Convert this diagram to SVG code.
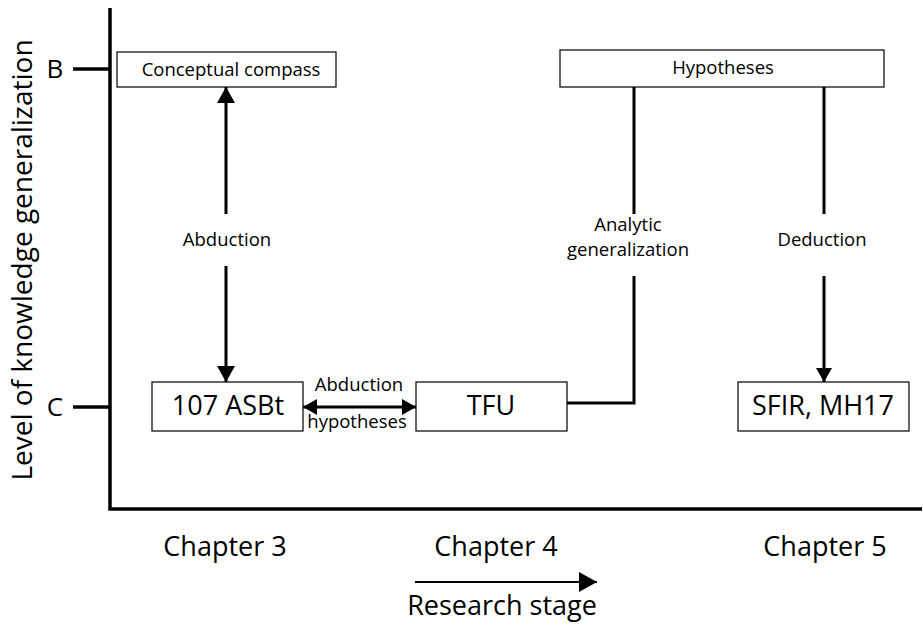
<svg xmlns="http://www.w3.org/2000/svg" width="923" height="627" viewBox="0 0 923 627">
  <defs>
    <marker id="arrow" viewBox="0 0 16 18" refX="16" refY="9" markerWidth="16" markerHeight="18" orient="auto-start-reverse" markerUnits="userSpaceOnUse">
      <path d="M0,0 L16,9 L0,18 z" fill="#000"/>
    </marker>
    <marker id="arrowSmall" viewBox="0 0 14 16" refX="14" refY="8" markerWidth="14" markerHeight="16" orient="auto-start-reverse" markerUnits="userSpaceOnUse">
      <path d="M0,0 L14,8 L0,16 z" fill="#000"/>
    </marker>
    <marker id="arrowStage" viewBox="0 0 18 20" refX="18" refY="10" markerWidth="18" markerHeight="20" orient="auto" markerUnits="userSpaceOnUse">
      <path d="M0,0 L18,10 L0,20 z" fill="#000"/>
    </marker>
  </defs>
  <style>
    text { font-family: "Open Sans", "Liberation Sans", sans-serif; fill: #000; }
    .box { fill: #fff; stroke: #000; stroke-width: 1.2; }
    .axis { stroke: #000; stroke-width: 3.5; fill: none; }
    .link { stroke: #000; stroke-width: 3; fill: none; }
    .small { font-size: 18.5px; text-anchor: middle; }
    .big { font-size: 27px; text-anchor: middle; }
    .lbl { font-size: 18.5px; text-anchor: middle; }
    .chap { font-size: 27px; text-anchor: middle; }
  </style>

  <rect width="923" height="627" fill="#fff"/>

  <!-- Axes -->
  <g id="axes">
    <path class="axis" d="M110,8 V509 H922"/>
    <line class="axis" x1="73" y1="69" x2="110" y2="69"/>
    <line class="axis" x1="73" y1="407" x2="110" y2="407"/>
    <text x="55" y="78" font-size="26" text-anchor="middle">B</text>
    <text x="55" y="416" font-size="26" text-anchor="middle">C</text>
    <text transform="translate(32,260) rotate(-90)" font-size="28" text-anchor="middle">Level of knowledge generalization</text>
    <text class="chap" x="225" y="556">Chapter 3</text>
    <text class="chap" x="496" y="556">Chapter 4</text>
    <text class="chap" x="825" y="556">Chapter 5</text>
    <line x1="415" y1="582" x2="597" y2="582" stroke="#000" stroke-width="2" marker-end="url(#arrowStage)"/>
    <text class="chap" x="502" y="615">Research stage</text>
  </g>

  <!-- Connectors -->
  <g id="connectors">
    <line class="link" x1="226" y1="87" x2="226" y2="382" marker-start="url(#arrow)" marker-end="url(#arrow)"/>
    <line class="link" x1="303" y1="407" x2="416" y2="407" marker-start="url(#arrowSmall)" marker-end="url(#arrowSmall)"/>
    <path class="link" d="M567,403 H634 V87"/>
    <line class="link" x1="824" y1="87" x2="824" y2="382" marker-end="url(#arrowSmall)"/>
  </g>

  <!-- Connector labels -->
  <g id="labels">
    <rect x="176" y="214" width="100" height="52" fill="#fff"/>
    <text class="lbl" x="227" y="246">Abduction</text>
    <text class="lbl" x="359" y="391">Abduction</text>
    <text class="lbl" x="357" y="428">hypotheses</text>
    <rect x="565" y="214" width="130" height="62" fill="#fff"/>
    <text class="lbl" x="628" y="231">Analytic</text>
    <text class="lbl" x="628" y="256">generalization</text>
    <rect x="770" y="214" width="108" height="62" fill="#fff"/>
    <text class="lbl" x="822" y="246">Deduction</text>
  </g>

  <!-- Nodes -->
  <g id="node-compass">
    <rect class="box" x="117" y="52" width="219" height="35"/>
    <text class="small" x="231" y="76">Conceptual compass</text>
  </g>
  <g id="node-hypotheses">
    <rect class="box" x="560" y="50" width="324" height="37"/>
    <text class="small" x="723" y="74">Hypotheses</text>
  </g>
  <g id="node-asbt">
    <rect class="box" x="152" y="382" width="151" height="49"/>
    <text class="big" x="228" y="415">107 ASBt</text>
  </g>
  <g id="node-tfu">
    <rect class="box" x="416" y="382" width="151" height="49"/>
    <text class="big" x="491" y="415">TFU</text>
  </g>
  <g id="node-sfir">
    <rect class="box" x="738" y="382" width="171" height="49"/>
    <text class="big" x="823" y="415">SFIR, MH17</text>
  </g>
</svg>
